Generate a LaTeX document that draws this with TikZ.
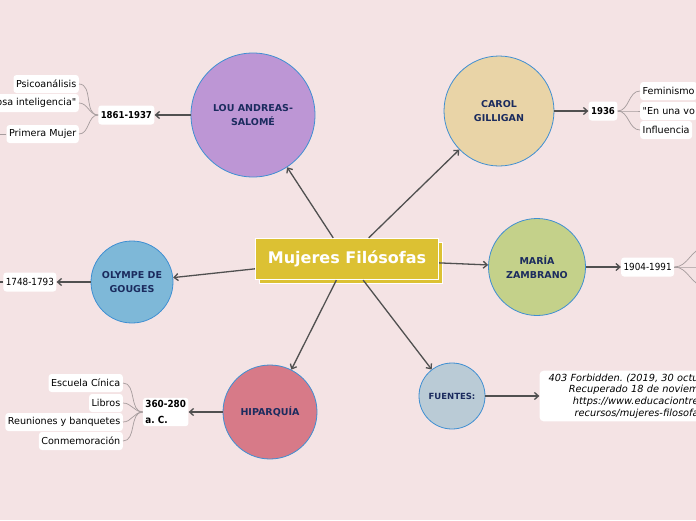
\documentclass[tikz,border=0pt]{standalone}
\usepackage{fontspec}
\setmainfont{DejaVu Sans}[Ligatures=TeXOff]
\newfontfamily\condfont{DejaVu Sans Condensed}
\usepackage{tikz}
\usetikzlibrary{arrows.meta,positioning,shadows}
\definecolor{bgpink}{HTML}{F4E3E4}
\definecolor{gold}{HTML}{DCC133}
\definecolor{lavender}{HTML}{BD96D5}
\definecolor{wheat}{HTML}{E9D4A7}
\definecolor{olive}{HTML}{C4D18A}
\definecolor{skyblue}{HTML}{7EB8D8}
\definecolor{rose}{HTML}{D77A88}
\definecolor{slate}{HTML}{BACBD6}
\definecolor{ringblue}{HTML}{3F8FD2}
\definecolor{navy}{HTML}{1B2B5E}
\definecolor{linegray}{HTML}{505050}
\definecolor{branchgray}{HTML}{A59C9D}
\tikzset{
  mainbox/.style={draw=white, line width=1.2pt, fill=gold, text=white, font=\bfseries\fontsize{16}{18}\selectfont, minimum width=183pt, minimum height=41pt, copy shadow={shadow xshift=4pt, shadow yshift=-4pt}},
  topic/.style={circle, draw=ringblue, line width=0.8pt, align=center, inner sep=0pt, text=navy, font=\bfseries\fontsize{9.5}{14}\selectfont},
  datebox/.style={fill=white, rounded corners=3pt, inner sep=2.5pt, minimum height=19pt, align=left, font=\condfont\fontsize{9.8}{15}\selectfont},
  leaf/.style={fill=white, rounded corners=3pt, inner sep=2.5pt, minimum height=18pt, font=\fontsize{9.6}{11}\selectfont},
  source/.style={fill=white, rounded corners=4pt, inner sep=3pt, align=right, text width=156pt, font=\itshape\fontsize{9.8}{11.7}\selectfont},
  arrow/.style={-{Straight Barb[length=4pt, width=7pt]}, line width=1.3pt, draw=linegray},
  branch/.style={draw=branchgray, line width=0.7pt}
}

\begin{document}
\frenchspacing
\begin{tikzpicture}[x=1pt, y=-1pt]
  \useasboundingbox (0,0) rectangle (696,520);
  \clip (0,0) rectangle (696,520);
  \fill[bgpink] (0,0) rectangle (696,520);

  % central topic and main branches
  \node[mainbox] (title) at (347,259) {Mujeres Filósofas};
  \node[topic, fill=lavender, minimum size=124pt] (lou) at (253,115) {LOU ANDREAS-\\SALOMÉ};
  \node[topic, fill=wheat, minimum size=110pt] (carol) at (499,111) {CAROL\\GILLIGAN};
  \node[topic, fill=olive, minimum size=97pt] (maria) at (537,267) {MARÍA\\ZAMBRANO};
  \node[topic, fill=skyblue, minimum size=82pt] (olympe) at (132,282) {OLYMPE DE\\GOUGES};
  \node[topic, fill=rose, minimum size=94pt] (hiparquia) at (270,412) {HIPARQUÍA};
  \node[topic, fill=slate, minimum size=66pt, font=\bfseries\fontsize{8.5}{10}\selectfont] (fuentes) at (452,396) {FUENTES:};

  % dates
  \node[datebox, left=36pt of lou, font=\condfont\bfseries\fontsize{9.5}{11}\selectfont] (loudate) {1861-1937};
  \node[datebox, right=34pt of carol, font=\condfont\bfseries\fontsize{9.5}{11}\selectfont] (caroldate) {1936};
  \node[datebox, right=35pt of maria] (mariadate) {1904-1991};
  \node[datebox, left=34pt of olympe] (olympedate) {1748-1793};
  \node[datebox, left=34pt of hiparquia, font=\condfont\bfseries\fontsize{9.8}{16}\selectfont] (hipdate) {360-280\\a. C.};
  \node[source, right=54pt of fuentes] (cita) {403 Forbidden. (2019, 30 octu\\Recuperado 18 de noviem\\https://www.educaciontre\\recursos/mujeres-filosofa};

  % leaves
  \node[leaf, anchor=east] (psico) at (79,84) {Psicoanálisis};
  \node[leaf, anchor=east] (intel) at (79,103) {osa inteligencia"};
  \node[leaf, anchor=east] (primera) at (79,134) {Primera Mujer};
  \node[leaf, anchor=west] (femin) at (640,91) {Feminismo};
  \node[leaf, anchor=west] (envoz) at (640,111) {"En una vo};
  \node[leaf, anchor=west] (influ) at (640,130) {Influencia};
  \node[leaf, anchor=east] (escuela) at (123,383) {Escuela Cínica};
  \node[leaf, anchor=east] (libros) at (123,403) {Libros};
  \node[leaf, anchor=east] (reuniones) at (123,422) {Reuniones y banquetes};
  \node[leaf, anchor=east] (conmem) at (123,441) {Conmemoración};
  \coordinate (pm) at (-10,134);
  \coordinate (od) at (-10,282);
  \coordinate (m1) at (705,248);
  \coordinate (m2) at (705,267);
  \coordinate (m3) at (705,286);

  \draw[arrow] (title) -- (lou);
  \draw[arrow] (title) -- (carol);
  \draw[arrow] (title) -- (maria);
  \draw[arrow] (title) -- (olympe);
  \draw[arrow] (title) -- (hiparquia);
  \draw[arrow] (title) -- (fuentes);
  \draw[arrow] (lou) -- (loudate);
  \draw[arrow] (carol) -- (caroldate);
  \draw[arrow] (maria) -- (mariadate);
  \draw[arrow] (olympe) -- (olympedate);
  \draw[arrow] (hiparquia) -- (hipdate);
  \draw[arrow] (fuentes) -- (cita);
  \draw[linegray, line width=1.2pt] (olympedate) -- (od);

  \draw[branch] (loudate.west) to[out=180, in=0] (psico.east);
  \draw[branch] (loudate.west) to[out=180, in=0] (intel.east);
  \draw[branch] (loudate.west) to[out=180, in=0] (primera.east);
  \draw[branch] (primera) -- (pm);
  \draw[branch] (caroldate.east) to[out=0, in=180] (femin.west);
  \draw[branch] (caroldate.east) to[out=0, in=180] (envoz.west);
  \draw[branch] (caroldate.east) to[out=0, in=180] (influ.west);
  \draw[branch] (mariadate.east) to[out=0, in=180] (m1);
  \draw[branch] (mariadate.east) to[out=0, in=180] (m2);
  \draw[branch] (mariadate.east) to[out=0, in=180] (m3);
  \draw[branch] (hipdate.west) to[out=180, in=0] (escuela.east);
  \draw[branch] (hipdate.west) to[out=180, in=0] (libros.east);
  \draw[branch] (hipdate.west) to[out=180, in=0] (reuniones.east);
  \draw[branch] (hipdate.west) to[out=180, in=0] (conmem.east);
\end{tikzpicture}
\end{document}
